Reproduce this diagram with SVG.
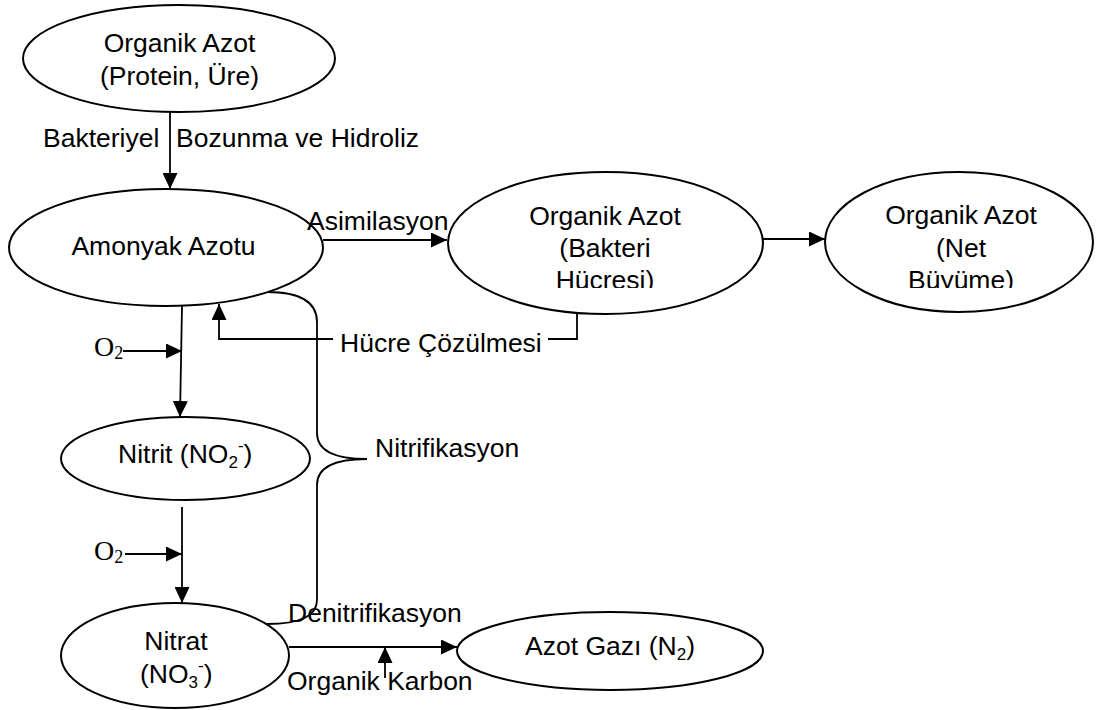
<svg xmlns="http://www.w3.org/2000/svg" width="1100" height="710" viewBox="0 0 1100 710">
<style>
.n{fill:#fff;stroke:#000;stroke-width:2}
.t{font-family:"Liberation Sans",Arial,sans-serif;font-size:26.5px;fill:#000}
.m{text-anchor:middle}
.s{font-family:"Liberation Serif","Times New Roman",serif;font-size:28px;fill:#000}
.c{fill:none;stroke:#000;stroke-width:1.8}
</style>
<defs>
<marker id="ah" viewBox="0 0 16 15" refX="16" refY="7.5" markerWidth="16" markerHeight="15" markerUnits="userSpaceOnUse" orient="auto">
<path d="M0,0 L16,7.5 L0,15 Z" fill="#000"/>
</marker>
<clipPath id="clip3"><rect x="440" y="160" width="330" height="128"/></clipPath>
<clipPath id="clip4"><rect x="820" y="160" width="280" height="128"/></clipPath>
</defs>
<rect width="1100" height="710" fill="#fff"/>

<g id="connectors">
<line class="c" x1="170" y1="112" x2="170" y2="189" marker-end="url(#ah)"/>
<line class="c" x1="323" y1="240" x2="447" y2="240" marker-end="url(#ah)"/>
<line class="c" x1="763" y1="239" x2="825" y2="239" marker-end="url(#ah)"/>
<path class="c" d="M577,314 L577,339 L548,339"/>
<path class="c" d="M333,339 L219,339 L219,304" marker-end="url(#ah)"/>
<line class="c" x1="182" y1="306" x2="180" y2="417" marker-end="url(#ah)"/>
<line class="c" x1="123" y1="351" x2="182" y2="351" marker-end="url(#ah)"/>
<line class="c" x1="182" y1="507" x2="182" y2="603" marker-end="url(#ah)"/>
<line class="c" x1="125" y1="554" x2="182" y2="554" marker-end="url(#ah)"/>
<line class="c" x1="289" y1="647" x2="457" y2="647" marker-end="url(#ah)"/>
<line class="c" x1="385" y1="678" x2="385" y2="647" marker-end="url(#ah)"/>
<path class="c" d="M267,292 Q317,292 317,322 L317,433 Q317,459 367,459 Q317,459 317,485 L317,600 Q317,624 267,624"/>
</g>

<g id="node-organik-azot-protein">
<ellipse class="n" cx="179" cy="58.5" rx="156" ry="53.5"/>
<text class="t m" x="179.5" y="52">Organik Azot</text>
<text class="t m" x="179.5" y="85">(Protein, Üre)</text>
</g>

<g id="node-amonyak">
<ellipse class="n" cx="166" cy="247.5" rx="157" ry="58.5"/>
<text class="t m" x="163.5" y="255">Amonyak Azotu</text>
</g>

<g id="node-bakteri">
<ellipse class="n" cx="605.5" cy="243" rx="157.5" ry="71"/>
<g clip-path="url(#clip3)">
<text class="t m" x="605" y="225">Organik Azot</text>
<text class="t m" x="605" y="257">(Bakteri</text>
<text class="t m" x="605" y="289">Hücresi)</text>
</g>
</g>

<g id="node-net">
<ellipse class="n" cx="959" cy="242" rx="134" ry="70"/>
<g clip-path="url(#clip4)">
<text class="t m" x="961" y="224">Organik Azot</text>
<text class="t m" x="961" y="257">(Net</text>
<text class="t m" x="961" y="289">Büyüme)</text>
</g>
</g>

<g id="node-nitrit">
<ellipse class="n" cx="185.5" cy="458.5" rx="124.5" ry="41.5"/>
<text class="t" x="118" y="463">Nitrit (NO<tspan font-size="17" dy="5">2</tspan><tspan font-size="17" dy="-17">-</tspan><tspan dy="12">)</tspan></text>
</g>

<g id="node-nitrat">
<ellipse class="n" cx="175" cy="655.5" rx="114" ry="52.5"/>
<text class="t m" x="176" y="650">Nitrat</text>
<text class="t" x="140" y="683">(NO<tspan font-size="17" dy="5">3</tspan><tspan font-size="17" dy="-17">-</tspan><tspan dy="12">)</tspan></text>
</g>

<g id="node-azot-gazi">
<ellipse class="n" cx="610" cy="651" rx="153" ry="39"/>
<text class="t" x="525" y="655">Azot Gazı (N<tspan font-size="17" dy="5">2</tspan><tspan dy="-5">)</tspan></text>
</g>

<g id="labels">
<text class="t" x="43" y="147">Bakteriyel</text>
<text class="t" x="176" y="147">Bozunma ve Hidroliz</text>
<text class="t" x="307" y="230">Asimilasyon</text>
<text class="t" x="340" y="352">Hücre Çözülmesi</text>
<text class="t" x="375" y="457">Nitrifikasyon</text>
<text class="t" x="288" y="622">Denitrifikasyon</text>
<text class="t" x="287" y="690">Organik Karbon</text>
<text class="s" x="94" y="356">O<tspan font-size="18" dy="3">2</tspan></text>
<text class="s" x="94" y="560">O<tspan font-size="18" dy="3">2</tspan></text>
</g>
</svg>
